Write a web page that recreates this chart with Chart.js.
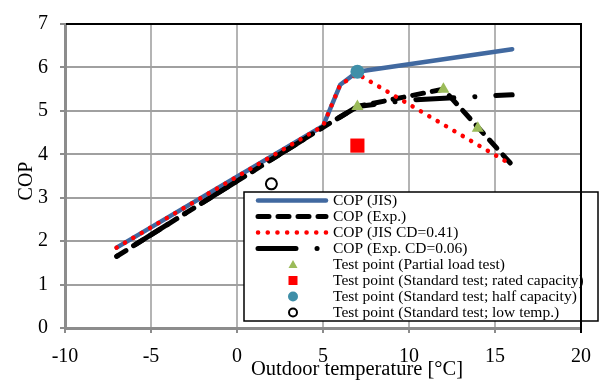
<!DOCTYPE html>
<html>
<head>
    <title>COP vs outdoor temperature</title>
    <script src="https://cdn.jsdelivr.net/npm/chart.js"></script>
    <style>
        body { margin: 0; background: #fff; }
    </style>
</head>
<body>
    <canvas id="copChart" width="603" height="381"></canvas>

    <script>
        // lines
        const jisX = [-7, 5, 6, 7, 16];
        const jisY = [1.85, 4.65, 5.6, 5.9, 6.42];
        const expX = [-7, 5, 7, 12, 16];
        const expY = [1.65, 4.62, 5.1, 5.5, 3.75];
        const jisCdX = [-7, 5, 6, 7, 16];
        const jisCdY = [1.85, 4.65, 5.6, 5.85, 3.75];
        const expCdX = [-7, 5, 7, 10, 16];
        const expCdY = [1.65, 4.62, 5.1, 5.25, 5.37];

        // test points
        const partialX = [7, 12, 14];
        const partialY = [5.1, 5.5, 4.6];
        const ratedX = [7];
        const ratedY = [4.2];
        const halfX = [7];
        const halfY = [5.9];
        const lowX = [2];
        const lowY = [3.32];

        const xTicks = [-10, -5, 0, 5, 10, 15, 20];
        const yTicks = [0, 1, 2, 3, 4, 5, 6, 7];

        const serif = 'Liberation Serif, Times New Roman, serif';
        const pts = (xs, ys) => xs.map((x, i) => ({ x: x, y: ys[i] }));

        const lineSet = (label, xs, ys, color, width, dash, offset, order) => ({
            label: label, data: pts(xs, ys), showLine: true,
            borderColor: color, borderWidth: width, borderDash: dash, borderDashOffset: offset,
            borderCapStyle: 'round', borderJoinStyle: 'round',
            pointRadius: 0, order: order
        });

        const datasets = [
            lineSet('COP (JIS)', jisX, jisY, '#4169a0', 4.5, [], 0, 5),
            lineSet('COP (Exp.)', expX, expY, '#000', 5, [11, 9], 0, 4),
            lineSet('COP (JIS CD=0.41)', jisCdX, jisCdY, '#ff0000', 4.5, [0.1, 9.6], 0, 2),
            lineSet('COP (Exp. CD=0.06)', expCdX, expCdY, '#000', 5, [38, 21, 0.1, 21], 58, 3),
            { label: 'Test point (Partial load test)', data: pts(partialX, partialY), pointStyle: 'triangle',
              pointRadius: 7, backgroundColor: '#9bbb59', borderColor: '#9bbb59', borderWidth: 0, order: 1 },
            { label: 'Test point (Standard test; rated capacity)', data: pts(ratedX, ratedY), pointStyle: 'rect',
              pointRadius: 10, backgroundColor: '#ff0000', borderColor: '#ff0000', borderWidth: 0, order: 1 },
            { label: 'Test point (Standard test; half capacity)', data: pts(halfX, halfY), pointStyle: 'circle',
              pointRadius: 7, backgroundColor: '#3f8fa8', borderColor: '#3f8fa8', borderWidth: 0, order: 0 },
            { label: 'Test point (Standard test; low temp.)', data: pts(lowX, lowY), pointStyle: 'circle',
              pointRadius: 5.5, backgroundColor: '#fff', borderColor: '#000', borderWidth: 2, order: 0 }
        ];

        // frame, axis titles and legend box
        const decor = {
            id: 'decor',
            afterDraw(chart) {
                const c = chart.ctx;
                const a = chart.chartArea;
                c.save();

                // legend
                const lx = 244, ly = 192, lw = 354, lh = 129;
                c.fillStyle = '#fff';
                c.fillRect(lx, ly, lw, lh);
                c.strokeStyle = '#000';
                c.lineWidth = 1.5;
                c.strokeRect(lx, ly, lw, lh);

                // black top and right frame
                c.setLineDash([]);
                c.lineWidth = 2;
                c.beginPath();
                c.moveTo(a.left + 1, a.top);
                c.lineTo(a.right, a.top);
                c.lineTo(a.right, a.bottom + 5);
                c.stroke();

                const rows = [200.5, 216.5, 232.5, 248.5, 264.5, 280.5, 296.5, 312.5];
                const mx = 293;
                c.font = '15.5px ' + serif;
                c.textBaseline = 'middle';
                c.textAlign = 'left';
                chart.data.datasets.forEach((ds, i) => {
                    const y = rows[i];
                    if (ds.showLine) {
                        c.strokeStyle = ds.borderColor;
                        c.lineWidth = ds.borderWidth;
                        c.lineCap = 'round';
                        c.setLineDash(ds.borderDash);
                        c.beginPath();
                        c.moveTo(258, y);
                        c.lineTo(326, y);
                        c.stroke();
                        c.setLineDash([]);
                    } else if (ds.pointStyle === 'triangle') {
                        c.fillStyle = ds.backgroundColor;
                        c.beginPath();
                        c.moveTo(mx, y - 4.5);
                        c.lineTo(mx + 4.5, y + 3.5);
                        c.lineTo(mx - 4.5, y + 3.5);
                        c.closePath();
                        c.fill();
                    } else if (ds.pointStyle === 'rect') {
                        c.fillStyle = ds.backgroundColor;
                        c.fillRect(mx - 4.5, y - 4.5, 9, 9);
                    } else {
                        c.fillStyle = ds.backgroundColor;
                        c.strokeStyle = ds.borderColor;
                        c.lineWidth = ds.borderWidth;
                        c.beginPath();
                        c.arc(mx, y, ds.borderWidth ? 4 : 5, 0, Math.PI * 2);
                        c.fill();
                        if (ds.borderWidth) c.stroke();
                    }
                    c.fillStyle = '#000';
                    c.fillText(ds.label, 333, y + 0.5);
                });

                // axis titles
                c.fillStyle = '#000';
                c.textAlign = 'center';
                c.font = '20.5px ' + serif;
                c.fillText('Outdoor temperature [°C]', 357, 370);
                c.translate(27, 181);
                c.rotate(-Math.PI / 2);
                c.font = '20px ' + serif;
                c.fillText('COP', 0, 0);
                c.restore();
            }
        };

        new Chart(document.getElementById('copChart'), {
            type: 'scatter',
            data: { datasets: datasets },
            options: {
                responsive: false,
                animation: false,
                layout: { padding: { left: 0, right: 17, top: 14, bottom: 0 } },
                scales: {
                    x: {
                        type: 'linear', min: xTicks[0], max: xTicks[xTicks.length - 1],
                        afterBuildTicks: s => { s.ticks = xTicks.map(v => ({ value: v })); },
                        afterFit: s => { s.height = 53; },
                        ticks: { color: '#000', font: { family: serif, size: 20 }, padding: 12 },
                        grid: { color: '#b4b4b4', lineWidth: 2, tickLength: 5, tickColor: '#8c8c8c' },
                        border: { color: '#8c8c8c', width: 3 }
                    },
                    y: {
                        type: 'linear', min: yTicks[0], max: yTicks[yTicks.length - 1],
                        afterBuildTicks: s => { s.ticks = yTicks.map(v => ({ value: v })); },
                        afterFit: s => { s.width = 65; },
                        ticks: { color: '#000', font: { family: serif, size: 20 }, padding: 12 },
                        grid: { color: '#a0a0a0', lineWidth: 2, tickLength: 5, tickColor: '#8c8c8c' },
                        border: { color: '#8c8c8c', width: 3 }
                    }
                },
                plugins: {
                    legend: { display: false },
                    tooltip: { enabled: false }
                }
            },
            plugins: [decor]
        });
    </script>
</body>
</html>
